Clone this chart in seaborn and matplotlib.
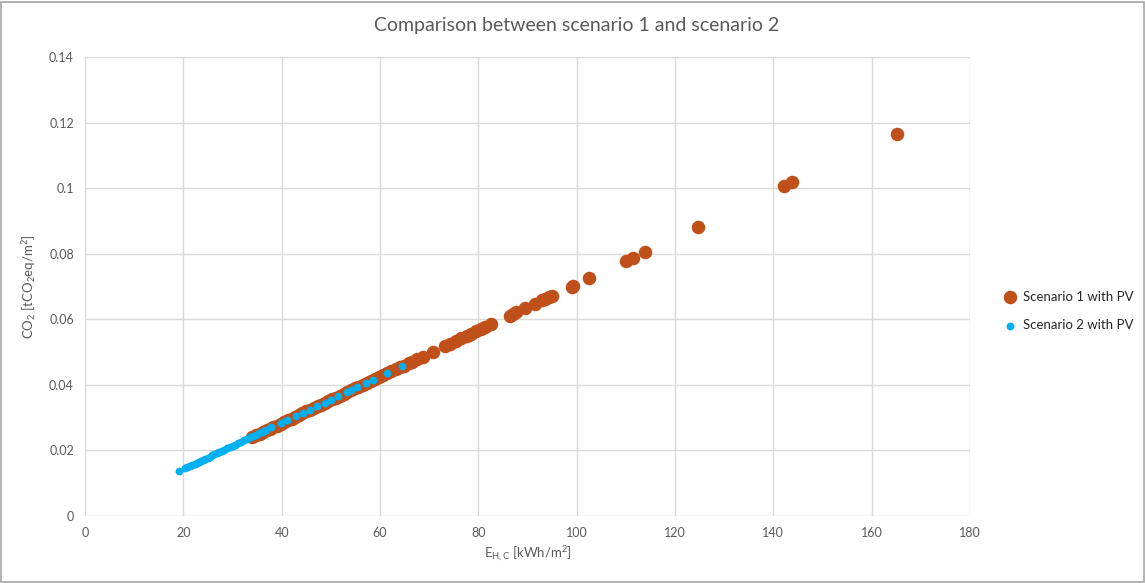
import matplotlib
matplotlib.use("Agg")
import matplotlib.pyplot as plt
import seaborn as sns
import pandas as pd
from matplotlib.patches import Rectangle

# ---------------- data ----------------
s1_x = [34.0, 34.8, 35.5, 36.2, 37.0, 37.6, 38.3, 39.0, 39.8, 40.5, 41.2, 42.0, 42.7, 43.5,
        44.2, 45.0, 45.8, 46.5, 47.3, 48.0, 48.8, 49.5, 50.3, 51.0, 51.8, 52.6, 53.3, 54.1,
        54.9, 55.6, 56.5, 57.3, 58.2, 59.0, 59.8, 60.6, 61.5, 62.3, 63.2, 64.0, 64.9, 65.8,
        66.6, 67.5, 68.7, 70.8, 73.2, 74.3, 75.5, 76.5, 77.6, 78.6, 79.6, 80.5, 81.3, 82.6,
        86.4, 87.0, 87.7, 89.4, 91.5, 93.0, 93.5, 94.3, 94.9, 99.0, 99.3, 102.6, 110.1, 111.4,
        113.8, 124.7, 142.2, 143.8, 165.2]
s1_y = [0.0241, 0.0246, 0.0251, 0.0256, 0.0262, 0.0266, 0.0271, 0.0276, 0.0282, 0.0287,
        0.0292, 0.0297, 0.0302, 0.0308, 0.0313, 0.0319, 0.0324, 0.0329, 0.0335, 0.0340,
        0.0346, 0.0350, 0.0356, 0.0361, 0.0367, 0.0372, 0.0377, 0.0383, 0.0389, 0.0394,
        0.0400, 0.0406, 0.0412, 0.0418, 0.0423, 0.0429, 0.0435, 0.0441, 0.0447, 0.0453,
        0.0459, 0.0466, 0.0471, 0.0478, 0.0486, 0.0501, 0.0518, 0.0526, 0.0535, 0.0542,
        0.0549, 0.0556, 0.0564, 0.0570, 0.0575, 0.0585, 0.0611, 0.0616, 0.0621, 0.0633,
        0.0648, 0.0658, 0.0662, 0.0667, 0.0671, 0.0700, 0.0703, 0.0725, 0.0779, 0.0788,
        0.0804, 0.0882, 0.1006, 0.1018, 0.1166]

s2_x = [19.1, 20.3, 20.8, 21.3, 21.8, 22.3, 22.7, 23.2, 23.6, 24.1, 24.5, 25.0, 25.4, 25.9,
        26.3, 26.8, 27.3, 27.8, 28.3, 28.9, 29.4, 30.0, 30.6, 31.2, 31.8, 32.4, 33.0, 33.6,
        34.2, 34.8, 35.4, 35.9, 36.4, 36.9, 37.9, 39.8, 41.1, 43.0, 44.4, 45.7, 47.2, 48.8,
        50.1, 51.5, 53.2, 54.2, 55.4, 57.2, 58.6, 61.5, 64.4]
s2_y = [0.0136, 0.0145, 0.0148, 0.0152, 0.0155, 0.0159, 0.0162, 0.0165, 0.0168, 0.0172,
        0.0175, 0.0178, 0.0181, 0.0185, 0.0188, 0.0191, 0.0195, 0.0198, 0.0202, 0.0206,
        0.0210, 0.0214, 0.0218, 0.0222, 0.0227, 0.0231, 0.0235, 0.0240, 0.0244, 0.0248,
        0.0252, 0.0256, 0.0260, 0.0263, 0.0270, 0.0283, 0.0292, 0.0305, 0.0315, 0.0324,
        0.0334, 0.0346, 0.0355, 0.0365, 0.0377, 0.0384, 0.0392, 0.0405, 0.0415, 0.0435,
        0.0456]

series_names = ["Scenario 1 with PV", "Scenario 2 with PV"]
x_ticks = [0, 20, 40, 60, 80, 100, 120, 140, 160, 180]
y_ticks = [0, 0.02, 0.04, 0.06, 0.08, 0.1, 0.12, 0.14]
y_tick_labels = ["0", "0.02", "0.04", "0.06", "0.08", "0.1", "0.12", "0.14"]
title = "Comparison between scenario 1 and scenario 2"

# ---------------- style ----------------
sns.set_theme(style="white")
FONT = "Lato"
plt.rcParams["font.family"] = [FONT, "DejaVu Sans"]
plt.rcParams["mathtext.fontset"] = "custom"
plt.rcParams["mathtext.rm"] = FONT
plt.rcParams["mathtext.it"] = FONT + ":italic"
plt.rcParams["mathtext.bf"] = FONT + ":bold"

GREY = "#595959"
ORANGE = "#C0501A"
BLUE = "#00B0F0"

df1 = pd.DataFrame({"E": s1_x, "CO2": s1_y})
df2 = pd.DataFrame({"E": s2_x, "CO2": s2_y})

fig = plt.figure(figsize=(11.45, 5.83), dpi=100)
ax = fig.add_axes([85 / 1145, 1 - 516 / 583, (970 - 85) / 1145, (516 - 57) / 583])

sns.scatterplot(data=df1, x="E", y="CO2", ax=ax, color=ORANGE, s=95, linewidth=0,
                label=series_names[0], zorder=3)
sns.scatterplot(data=df2, x="E", y="CO2", ax=ax, color=BLUE, s=32, linewidth=0,
                label=series_names[1], zorder=4)

ax.set_xlim(0, 180)
ax.set_ylim(0, 0.14)
ax.set_xticks(x_ticks)
ax.set_yticks(y_ticks)
ax.set_yticklabels(y_tick_labels)
ax.grid(True, color="#D9D9D9", linewidth=1.0)
ax.set_axisbelow(True)
for sp in ax.spines.values():
    sp.set_visible(False)
ax.tick_params(axis="both", length=0, labelsize=9, labelcolor=GREY, pad=8)

ax.set_xlabel(r"E$_{\mathrm{H,C}}$ [kWh/m$^{2}$]", fontsize=9.5, color=GREY, labelpad=4)
ax.set_ylabel(r"CO$_{2}$ [tCO$_{2}$eq/m$^{2}$]", fontsize=9.5, color=GREY, labelpad=8)

fig.text(577 / 1145, 1 - 26 / 583, title, ha="center", va="center", fontsize=14, color=GREY)

leg = ax.legend(loc="center left", bbox_to_anchor=(1.030, 0.447), frameon=False,
                fontsize=9.5, handletextpad=0.0, labelspacing=1.25, borderaxespad=0,
                borderpad=0)
for t in leg.get_texts():
    t.set_color("#262626")

fig.patches.append(Rectangle((0.001, 0.001), 0.998, 0.996, transform=fig.transFigure,
                             fill=False, edgecolor="#A6A6A6", linewidth=1.2))

fig.savefig("out.png", dpi=100)
